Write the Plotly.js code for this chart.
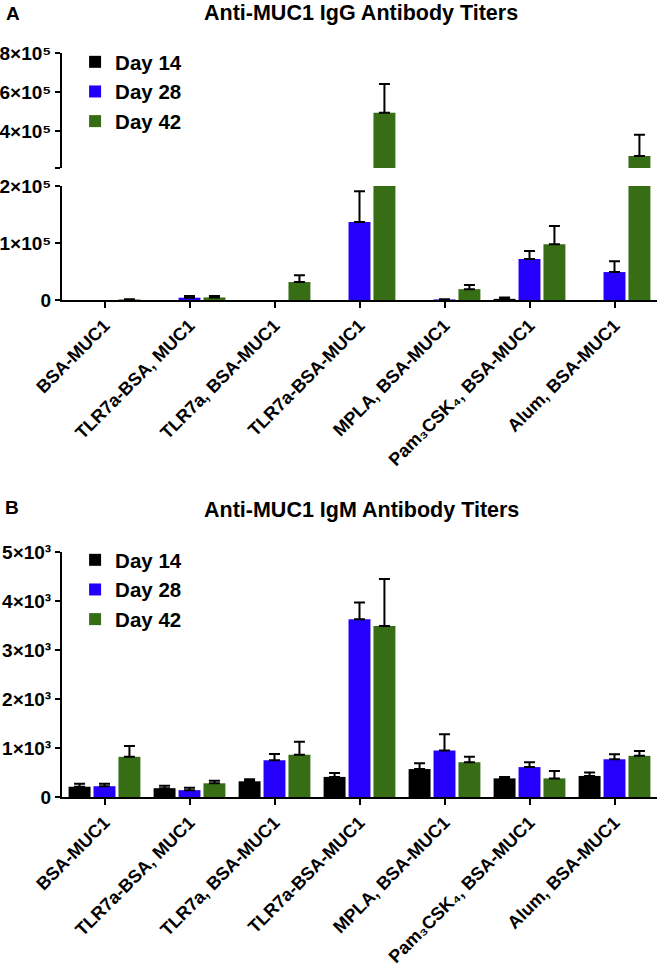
<!DOCTYPE html>
<html>
<head>
<meta charset="utf-8">
<script src="https://cdn.plot.ly/plotly-3.0.1.min.js"></script>
<style>html,body{margin:0;padding:0;background:#fff;}#chart{width:664px;height:966px;}</style>
</head>
<body>
<div id="chart"></div>
<script>
// ---- Data ----
const categories = ["BSA-MUC1", "TLR7a-BSA, MUC1", "TLR7a, BSA-MUC1", "TLR7a-BSA-MUC1",
                    "MPLA, BSA-MUC1", "Pam₃CSK₄, BSA-MUC1", "Alum, BSA-MUC1"];
const seriesNames = ["Day 14", "Day 28", "Day 42"];

// Panel A: Anti-MUC1 IgG titers (mean, +SD); null = no visible bar
const iggDay14 = [null, null, null, null, null, 2000, null];
const iggDay14Err = [null, null, null, null, null, 2500, null];
const iggDay28 = [null, 4000, null, 137000, 1000, 72000, 49000];
const iggDay28Err = [null, 3000, null, 54000, 500, 14000, 19000];
const iggDay42 = [1000, 4500, 31500, 494000, 19000, 98000, 272000];
const iggDay42Err = [500, 2500, 12000, 147000, 7500, 32000, 109000];

// Panel B: Anti-MUC1 IgM titers (mean, +SD)
const igmDay14 = [210, 180, 320, 410, 570, 380, 430];
const igmDay14Err = [60, 50, 40, 80, 120, 30, 70];
const igmDay28 = [220, 140, 750, 3630, 950, 610, 770];
const igmDay28Err = [50, 50, 130, 340, 330, 100, 100];
const igmDay42 = [820, 280, 860, 3490, 710, 380, 840];
const igmDay42Err = [220, 50, 270, 960, 110, 150, 100];

// Axis tick labels
const iggLowTickVals = [0, 100000, 200000];
const iggLowTickText = ["0", "1×10⁵", "2×10⁵"];
const iggHighTickVals = [210000, 400000, 600000, 800000];
const iggHighTickText = [" ", "4×10⁵", "6×10⁵", "8×10⁵"];
const igmTickVals = [0, 1000, 2000, 3000, 4000, 5000];
const igmTickText = ["0", "1×10³", "2×10³", "3×10³", "4×10³", "5×10³"];

// ---- Styling ----
const colors = ["#000000", "#2400fc", "#376d14"];
const FONT = "Liberation Sans, Arial, Helvetica, sans-serif";
const H = 966;
const py = p => 1 - p / H;

function mk(vals, errs, i, xa, ya, legendName, showLegend) {
  return {
    type: "bar",
    name: seriesNames[i],
    x: categories,
    y: vals,
    xaxis: xa,
    yaxis: ya,
    legend: legendName,
    showlegend: showLegend,
    marker: {color: colors[i], line: {width: 0}},
    error_y: {
      type: "data", symmetric: false, array: errs, arrayminus: errs.map(() => 0),
      color: "#000", thickness: 2, width: 5.5
    },
    hoverinfo: "x+y+name"
  };
}

const igg = [[iggDay14, iggDay14Err], [iggDay28, iggDay28Err], [iggDay42, iggDay42Err]];
const igm = [[igmDay14, igmDay14Err], [igmDay28, igmDay28Err], [igmDay42, igmDay42Err]];

const traces = [];
igg.forEach((s, i) => traces.push(mk(s[0], s[1], i, "x", "y", "legend", true)));
igg.forEach((s, i) => traces.push(mk(s[0], s[1], i, "x", "y2", "legend", false)));
igm.forEach((s, i) => traces.push(mk(s[0], s[1], i, "x2", "y3", "legend2", true)));

const yBase = {
  showline: true, linewidth: 2, linecolor: "#000",
  ticks: "outside", ticklen: 5, tickwidth: 2, tickcolor: "#000",
  showgrid: false, zeroline: false, tickmode: "array",
  tickfont: {family: FONT, size: 19, weight: "bold", color: "#000"},
  fixedrange: true
};
const xBase = {
  type: "category",
  showline: true, linewidth: 2, linecolor: "#000",
  ticks: "outside", ticklen: 6, tickwidth: 2, tickcolor: "#000",
  showgrid: false, zeroline: false, tickangle: -45,
  tickfont: {family: FONT, size: 18, weight: "bold", color: "#000"},
  range: [-0.5, 6.5], fixedrange: true
};

const legendBase = {
  xanchor: "left", yanchor: "top", bgcolor: "rgba(0,0,0,0)",
  font: {family: FONT, size: 20.5, weight: "bold", color: "#000"},
  traceorder: "normal", tracegroupgap: 0, itemclick: false
};

const layout = {
  width: 664, height: 966,
  margin: {l: 62, r: 7, t: 0, b: 0},
  paper_bgcolor: "#fff", plot_bgcolor: "#fff",
  barmode: "group", bargap: 0.12, bargroupgap: 0.12,
  font: {family: FONT, color: "#000"},
  xaxis: Object.assign({}, xBase, {anchor: "y", domain: [0, 1]}),
  yaxis: Object.assign({}, yBase, {anchor: "x", domain: [py(300), py(186)], range: [0, 200000],
                                   tickvals: iggLowTickVals, ticktext: iggLowTickText}),
  yaxis2: Object.assign({}, yBase, {anchor: "x", domain: [py(168), py(53)], range: [210000, 800000],
                                    tickvals: iggHighTickVals, ticktext: iggHighTickText}),
  xaxis2: Object.assign({}, xBase, {anchor: "y3", domain: [0, 1]}),
  yaxis3: Object.assign({}, yBase, {anchor: "x2", domain: [py(797), py(552)], range: [0, 5000],
                                    tickvals: igmTickVals, ticktext: igmTickText}),
  legend: Object.assign({}, legendBase, {x: 0.022, y: py(42)}),
  legend2: Object.assign({}, legendBase, {x: 0.022, y: py(540)}),
  annotations: [
    {text: "Anti-MUC1 IgG Antibody Titers", xref: "paper", yref: "paper", x: 0.503, y: py(13),
     xanchor: "center", yanchor: "middle", showarrow: false,
     font: {family: FONT, size: 21.5, weight: "bold", color: "#000"}},
    {text: "Anti-MUC1 IgM Antibody Titers", xref: "paper", yref: "paper", x: 0.503, y: py(510),
     xanchor: "center", yanchor: "middle", showarrow: false,
     font: {family: FONT, size: 21.5, weight: "bold", color: "#000"}},
    {text: "A", xref: "paper", yref: "paper", x: -58 / 595, y: py(13),
     xanchor: "left", yanchor: "middle", showarrow: false,
     font: {family: FONT, size: 19, weight: "bold", color: "#000"}},
    {text: "B", xref: "paper", yref: "paper", x: -59 / 595, y: py(508),
     xanchor: "left", yanchor: "middle", showarrow: false,
     font: {family: FONT, size: 19, weight: "bold", color: "#000"}}
  ]
};

Plotly.newPlot("chart", traces, layout, {displayModeBar: false, staticPlot: true});
</script>
</body>
</html>
